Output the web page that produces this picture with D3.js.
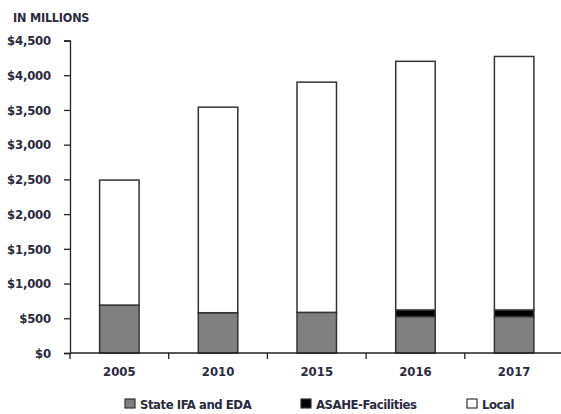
<!DOCTYPE html>
<html>
<head>
<meta charset="utf-8">
<script src="https://cdn.jsdelivr.net/npm/d3@7"></script>
<style>
  html, body { margin: 0; padding: 0; background: #fff; }
  svg { display: block; }
  text { font-family: "DejaVu Sans Condensed", "DejaVu Sans", sans-serif; font-weight: bold; fill: #2a2a40; }
</style>
</head>
<body>
<svg id="chart" width="561" height="414"></svg>
<script>
// Funding sources by year, in millions of dollars
const years = ["2005", "2010", "2015", "2016", "2017"];
const stateIfaEda = [690, 580, 585, 525, 525];
const asaheFacilities = [0, 0, 0, 95, 95];
const local = [1800, 2960, 3315, 3580, 3650];
const seriesNames = ["State IFA and EDA", "ASAHE-Facilities", "Local"];
const seriesColors = ["#808080", "#000000", "#ffffff"];
const yTicks = [0, 500, 1000, 1500, 2000, 2500, 3000, 3500, 4000, 4500];

const rows = years.map((y, i) => ({
  year: y,
  "State IFA and EDA": stateIfaEda[i],
  "ASAHE-Facilities": asaheFacilities[i],
  "Local": local[i]
}));

const svg = d3.select("#chart");
const margin = { left: 70, top: 40.5, bottom: 61 };
const width = 561, height = 414;

const x = d3.scaleBand()
  .domain(years)
  .range([margin.left, 563.5])
  .paddingInner(0.6)
  .paddingOuter(0.3);

const y = d3.scaleLinear()
  .domain([0, 4500])
  .range([height - margin.bottom, margin.top]);

const stack = d3.stack().keys(seriesNames);
const stacked = stack(rows);
const color = d3.scaleOrdinal().domain(seriesNames).range(seriesColors);

// Stacked bars
svg.append("g")
  .selectAll("g")
  .data(stacked)
  .join("g")
  .attr("fill", d => color(d.key))
  .selectAll("rect")
  .data(d => d.filter(p => p[1] - p[0] > 0))
  .join("rect")
  .attr("x", d => x(d.data.year))
  .attr("width", x.bandwidth())
  .attr("y", d => y(d[1]))
  .attr("height", d => y(d[0]) - y(d[1]))
  .attr("stroke", "#333")
  .attr("stroke-width", 1.5);

// Y axis
const yAxis = svg.append("g")
  .attr("transform", `translate(${margin.left},0)`)
  .call(d3.axisLeft(y).tickValues(yTicks).tickSize(6).tickPadding(13)
    .tickFormat(d => "$" + d3.format(",")(d)));
yAxis.select(".domain").attr("stroke", "#222").attr("stroke-width", 1.3);
yAxis.selectAll(".tick line").attr("stroke", "#222").attr("stroke-width", 1.3);
yAxis.selectAll("text").attr("font-size", 13).attr("fill", "#2a2a40")
  .attr("letter-spacing", -0.2);

// X axis: labels under bars, tick marks on band boundaries
const x0 = y(0);
const xAxis = svg.append("g")
  .attr("transform", `translate(0,${x0})`)
  .call(d3.axisBottom(x).tickSize(0).tickPadding(14));
xAxis.select(".domain").remove();
xAxis.selectAll("text").attr("font-size", 13).attr("fill", "#2a2a40");

svg.append("line")
  .attr("x1", margin.left).attr("x2", width)
  .attr("y1", x0).attr("y2", x0)
  .attr("stroke", "#222").attr("stroke-width", 1.3);

const boundaries = d3.range(years.length + 1).map(i => x.range()[0] + i * x.step());
svg.append("g")
  .selectAll("line")
  .data(boundaries.filter(b => b <= width))
  .join("line")
  .attr("x1", d => d).attr("x2", d => d)
  .attr("y1", x0).attr("y2", x0 + 6)
  .attr("stroke", "#222").attr("stroke-width", 1.3);

// Unit label
svg.append("text")
  .attr("x", 13).attr("y", 22)
  .attr("font-size", 12.5)
  .attr("letter-spacing", -0.2)
  .text("IN MILLIONS");

// Legend
const legendX = [125, 301, 467];
const legend = svg.append("g")
  .selectAll("g")
  .data(seriesNames)
  .join("g")
  .attr("transform", (d, i) => `translate(${legendX[i]},399)`);
legend.append("rect")
  .attr("width", 10).attr("height", 9)
  .attr("fill", d => color(d))
  .attr("stroke", "#333").attr("stroke-width", 1.2);
legend.append("text")
  .attr("x", 15).attr("y", 10)
  .attr("font-size", 13)
  .attr("letter-spacing", -0.45)
  .text(d => d);
</script>
</body>
</html>
